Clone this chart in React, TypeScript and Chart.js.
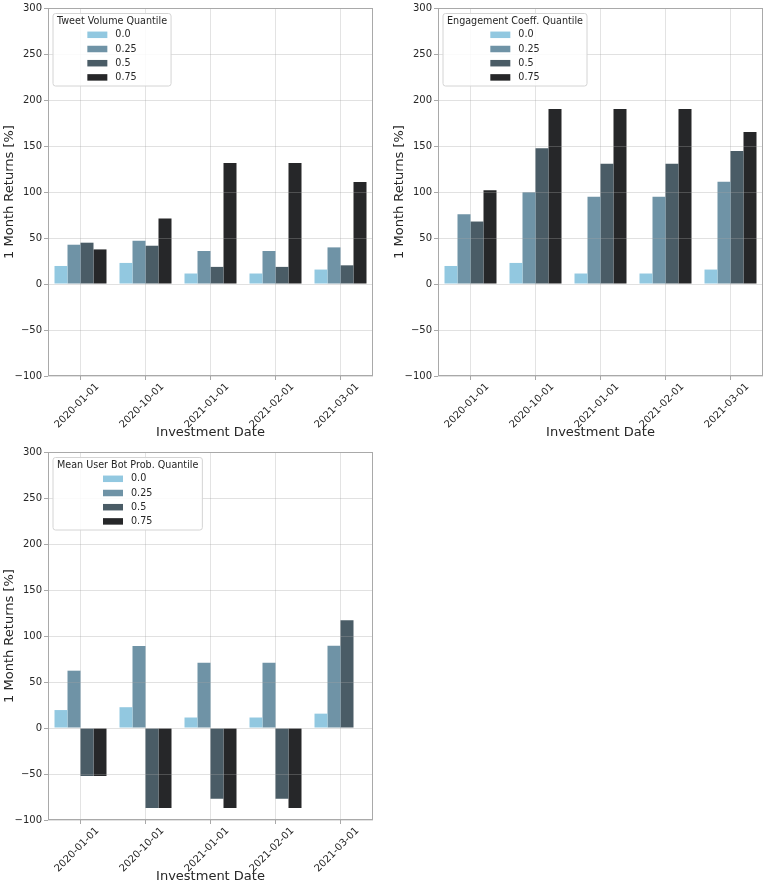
import React, { useEffect, useRef } from 'react';
import { Chart, registerables } from 'chart.js';

Chart.register(...registerables);

// ---------------- data ----------------
const investmentDates = ['2020-01-01', '2020-10-01', '2021-01-01', '2021-02-01', '2021-03-01'];
const quantileLabels = ['0.0', '0.25', '0.5', '0.75'];
const yTicks = [-100, -50, 0, 50, 100, 150, 200, 250, 300];

// Tweet Volume Quantile
const tweetVolumeQ0 = [19.6, 22.9, 11.4, 11.4, 15.7];
const tweetVolumeQ25 = [42.7, 47.0, 35.9, 35.9, 39.8];
const tweetVolumeQ50 = [44.9, 41.6, 18.6, 18.6, 20.3];
const tweetVolumeQ75 = [37.6, 71.2, 131.4, 131.4, 110.8];

// Engagement Coeff. Quantile
const engagementQ0 = [19.6, 22.9, 11.4, 11.4, 15.7];
const engagementQ25 = [75.9, 99.6, 94.9, 94.9, 111.1];
const engagementQ50 = [67.9, 147.6, 130.6, 130.6, 144.7];
const engagementQ75 = [101.8, 190.1, 190.1, 190.1, 165.2];

// Mean User Bot Prob. Quantile
const botProbQ0 = [19.5, 22.6, 11.4, 11.4, 15.6];
const botProbQ25 = [62.3, 89.0, 71.0, 71.0, 89.3];
const botProbQ50 = [-52.2, -87.0, -77.0, -77.0, 117.0];
const botProbQ75 = [-52.2, -87.0, -87.0, -87.0, 0];

// ---------------- styles ----------------
const quantileColors = ['#92c8e0', '#6f93a6', '#4a5c66', '#262729'];
const FONT = '"DejaVu Sans", "Liberation Sans", sans-serif';
const TEXT = '#262626';

const framePlugin = {
  id: 'frame',
  afterDraw(chart: any) {
    const { ctx, chartArea: a } = chart;
    ctx.save();
    ctx.strokeStyle = '#a9a9a9';
    ctx.lineWidth = 1;
    ctx.strokeRect(a.left + 0.5, a.top + 0.5, a.right - a.left - 1, a.bottom - a.top - 1);
    ctx.restore();
  },
};

const boxLegendPlugin = {
  id: 'boxLegend',
  afterDraw(chart: any, _args: any, opts: any) {
    const { ctx, chartArea: a } = chart;
    const size = 9.6;
    ctx.save();
    ctx.font = `${size}px ${FONT}`;
    const title: string = opts.title || '';
    const titleW = ctx.measureText(title).width;
    const items = chart.data.datasets.map((d: any) => ({ label: d.label, color: d.backgroundColor }));
    const maxLabelW = Math.max(...items.map((it: any) => ctx.measureText(it.label).width));
    const swW = 20;
    const swH = 6.5;
    const gap = 8;
    const colW = swW + gap + maxLabelW;
    const boxW = Math.max(titleW, colW) + 8;
    const boxH = 72.5;
    const x0 = a.left + 5;
    const y0 = a.top + 5.5;

    // box
    const r = 2.5;
    ctx.beginPath();
    ctx.moveTo(x0 + r, y0);
    ctx.lineTo(x0 + boxW - r, y0);
    ctx.arcTo(x0 + boxW, y0, x0 + boxW, y0 + r, r);
    ctx.lineTo(x0 + boxW, y0 + boxH - r);
    ctx.arcTo(x0 + boxW, y0 + boxH, x0 + boxW - r, y0 + boxH, r);
    ctx.lineTo(x0 + r, y0 + boxH);
    ctx.arcTo(x0, y0 + boxH, x0, y0 + boxH - r, r);
    ctx.lineTo(x0, y0 + r);
    ctx.arcTo(x0, y0, x0 + r, y0, r);
    ctx.closePath();
    ctx.fillStyle = 'rgba(255,255,255,0.85)';
    ctx.fill();
    ctx.strokeStyle = '#d4d4d4';
    ctx.lineWidth = 1;
    ctx.stroke();

    // title
    ctx.fillStyle = TEXT;
    ctx.textAlign = 'center';
    ctx.textBaseline = 'middle';
    ctx.fillText(title, x0 + boxW / 2, y0 + 7.8);

    // items
    const colLeft = x0 + boxW / 2 - colW / 2;
    items.forEach((it: any, i: number) => {
      const cy = y0 + 21.3 + i * 14.2;
      ctx.fillStyle = it.color;
      ctx.fillRect(colLeft, cy - swH / 2, swW, swH);
      ctx.fillStyle = TEXT;
      ctx.textAlign = 'left';
      ctx.fillText(it.label, colLeft + swW + gap, cy);
    });
    ctx.restore();
  },
};

type PanelProps = {
  legendTitle: string;
  series: number[][];
  left: number;
  top: number;
  width: number;
  height: number;
  padRight: number;
};

function Panel({ legendTitle, series, left, top, width, height, padRight }: PanelProps) {
  const ref = useRef<HTMLCanvasElement>(null);

  useEffect(() => {
    const canvas = ref.current;
    if (!canvas) return;
    const chart = new Chart(canvas, {
      type: 'bar',
      data: {
        labels: investmentDates,
        datasets: quantileLabels.map((q, i) => ({
          label: q,
          data: series[i],
          backgroundColor: quantileColors[i],
          borderWidth: 0,
          categoryPercentage: 0.8,
          barPercentage: 1.0,
        })),
      },
      options: {
        responsive: false,
        animation: false,
        layout: { padding: { top: 6, right: padRight, left: 0, bottom: 0 } },
        plugins: {
          legend: { display: false },
          tooltip: { enabled: false },
          // @ts-ignore
          boxLegend: { title: legendTitle },
        },
        scales: {
          x: {
            offset: true,
            grid: {
              offset: false,
              color: '#e3e3e3',
              lineWidth: 1,
              drawTicks: true,
              tickLength: 4,
              tickColor: '#a9a9a9',
            },
            border: { display: false },
            ticks: {
              autoSkip: false,
              minRotation: 45,
              maxRotation: 45,
              labelOffset: 17,
              padding: 1,
              color: TEXT,
              font: { family: FONT, size: 10 },
            },
            title: {
              display: true,
              text: 'Investment Date',
              color: TEXT,
              font: { family: FONT, size: 13 },
              padding: { top: 0, bottom: 0 },
            },
            afterFit: (scale: any) => {
              scale.height = height - 6 - 370;
            },
          },
          y: {
            min: yTicks[0],
            max: yTicks[yTicks.length - 1],
            afterBuildTicks: (scale: any) => {
              scale.ticks = yTicks.map((v) => ({ value: v }));
            },
            grid: {
              z: 1,
              color: 'rgba(165,165,165,0.33)',
              lineWidth: 1,
              drawTicks: true,
              tickLength: 4,
              tickColor: '#a9a9a9',
            },
            border: { display: false },
            ticks: {
              padding: 2,
              color: TEXT,
              font: { family: FONT, size: 10 },
              callback: (value: any) => String(value).replace('-', '\u2212'),
            },
            title: {
              display: true,
              text: '1 Month Returns [%]',
              color: TEXT,
              font: { family: FONT, size: 13 },
              padding: { top: 2, bottom: 0 },
            },
            afterFit: (scale: any) => {
              scale.width = 48;
            },
          },
        },
      } as any,
      plugins: [framePlugin, boxLegendPlugin],
    });
    return () => chart.destroy();
  }, []);

  return (
    <canvas
      ref={ref}
      width={width}
      height={height}
      style={{ position: 'absolute', left, top, width, height }}
    />
  );
}

export default function App() {
  return (
    <div
      style={{
        position: 'absolute',
        left: 0,
        top: 0,
        width: 766,
        height: 884,
        background: '#ffffff',
        overflow: 'hidden',
      }}
    >
      <Panel
        legendTitle="Tweet Volume Quantile"
        series={[tweetVolumeQ0, tweetVolumeQ25, tweetVolumeQ50, tweetVolumeQ75]}
        left={0}
        top={0}
        width={383}
        height={440}
        padRight={10}
      />
      <Panel
        legendTitle="Engagement Coeff. Quantile"
        series={[engagementQ0, engagementQ25, engagementQ50, engagementQ75]}
        left={390}
        top={0}
        width={376}
        height={440}
        padRight={3}
      />
      <Panel
        legendTitle="Mean User Bot Prob. Quantile"
        series={[botProbQ0, botProbQ25, botProbQ50, botProbQ75]}
        left={0}
        top={444}
        width={383}
        height={440}
        padRight={10}
      />
    </div>
  );
}
